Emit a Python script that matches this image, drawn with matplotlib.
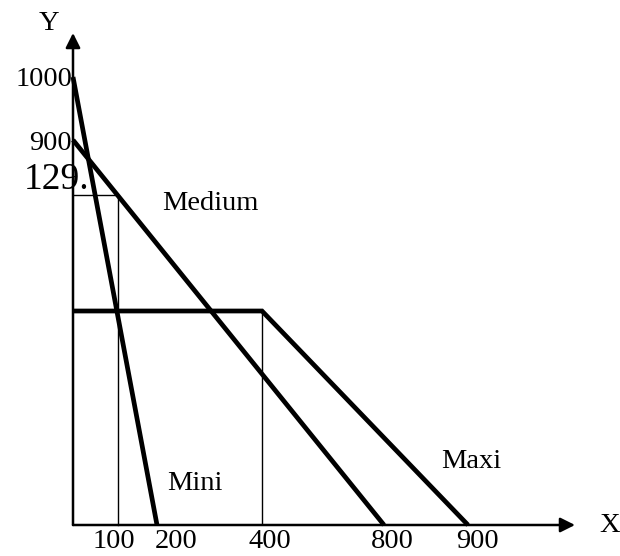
import numpy as np
import matplotlib.pyplot as plt

plt.rcParams['font.family'] = ['Liberation Serif', 'DejaVu Serif']

# values (chart units)
mini_x = [0, 200]
mini_y = [1000, 0]
medium_x = [0, 800]
medium_y = [900, 0]
maxi_x = [0, 400, 900]
maxi_y = [500, 500, 0]
mark_x = 100
mark_y = 787.5
x_ticks = [100, 200, 400, 800, 900]
x_labels = ['100', '200', '400', '800', '900']
y_ticks = [1000, 900]
y_labels = ['1000', '900']
mark_label = '129.'

# the sketch is not drawn to scale: piecewise scale (value -> pixel offset)
x_anchor_v = [-1000, 0, 100, 200, 400, 800, 900, 1000, 3000]
x_anchor_p = [-450, 0, 45, 84, 189, 311, 395, 502, 2600]
y_anchor_v = [-1000, 0, 500, 787.5, 900, 1000, 1100, 3000]
y_anchor_p = [-420, 0, 214, 330, 385, 448, 492, 1300]


def fwd(v, a, b):
    return np.interp(v, a, b)


fig = plt.figure(figsize=(6.2, 5.56), dpi=100)
ax = fig.add_axes([73 / 620, 31 / 556, 502 / 620, 492 / 556])
ax.set_xscale('function', functions=(lambda v: fwd(v, x_anchor_v, x_anchor_p),
                                     lambda p: fwd(p, x_anchor_p, x_anchor_v)))
ax.set_yscale('function', functions=(lambda v: fwd(v, y_anchor_v, y_anchor_p),
                                     lambda p: fwd(p, y_anchor_p, y_anchor_v)))
ax.set_xlim(0, 1000)
ax.set_ylim(0, 1100)
ax.axis('off')

# axes with arrows
arr = dict(arrowstyle='-|>', lw=1.8, color='black', mutation_scale=22, shrinkA=0, shrinkB=0)
ax.annotate('', xy=(1000, 0), xytext=(0, 0), arrowprops=arr, annotation_clip=False)
ax.annotate('', xy=(0, 1100), xytext=(0, 0), arrowprops=arr, annotation_clip=False)

# thin guide lines
ax.plot([0, mark_x, mark_x], [mark_y, mark_y, 0], color='black', lw=1.0, clip_on=False)
ax.plot([maxi_x[1], maxi_x[1]], [maxi_y[1], 0], color='black', lw=1.0)

# demand curves
ax.plot(mini_x, mini_y, color='black', lw=3.4, solid_capstyle='butt', clip_on=False)
ax.plot(medium_x, medium_y, color='black', lw=3.4, solid_capstyle='butt', clip_on=False)
ax.plot(maxi_x, maxi_y, color='black', lw=3.4, solid_capstyle='butt',
        solid_joinstyle='miter', clip_on=False)

fs = 20.5
x_off = [-4, 19, 8, 8, 9]
for v, lab, dx in zip(x_ticks, x_labels, x_off):
    ax.annotate(lab, xy=(v, 0), xytext=(dx, -17), textcoords='offset pixels',
                ha='center', va='center', fontsize=fs, annotation_clip=False)

for v, lab, dy in zip(y_ticks, y_labels, [-2, -4]):
    ax.annotate(lab, xy=(0, v), xytext=(-1, dy), textcoords='offset pixels',
                ha='right', va='center', fontsize=fs, annotation_clip=False)
ax.annotate(mark_label, xy=(0, mark_y), xytext=(16, 15), textcoords='offset pixels',
            ha='right', va='center', fontsize=27, annotation_clip=False)

ax.annotate('Y', xy=(0, 1100), xytext=(-24, 9), textcoords='offset pixels',
            ha='center', va='center', fontsize=fs, annotation_clip=False)
ax.annotate('X', xy=(1000, 0), xytext=(35, -1), textcoords='offset pixels',
            ha='center', va='center', fontsize=fs, annotation_clip=False)

ax.annotate('Medium', xy=(mark_x, mark_y), xytext=(92, -8), textcoords='offset pixels',
            ha='center', va='center', fontsize=fs, annotation_clip=False)
ax.annotate('Mini', xy=(200, 0), xytext=(38, 42), textcoords='offset pixels',
            ha='center', va='center', fontsize=fs, annotation_clip=False)
ax.annotate('Maxi', xy=(900, 0), xytext=(3, 64), textcoords='offset pixels',
            ha='center', va='center', fontsize=fs, annotation_clip=False)

fig.savefig('out.png', dpi=100, facecolor='white')
